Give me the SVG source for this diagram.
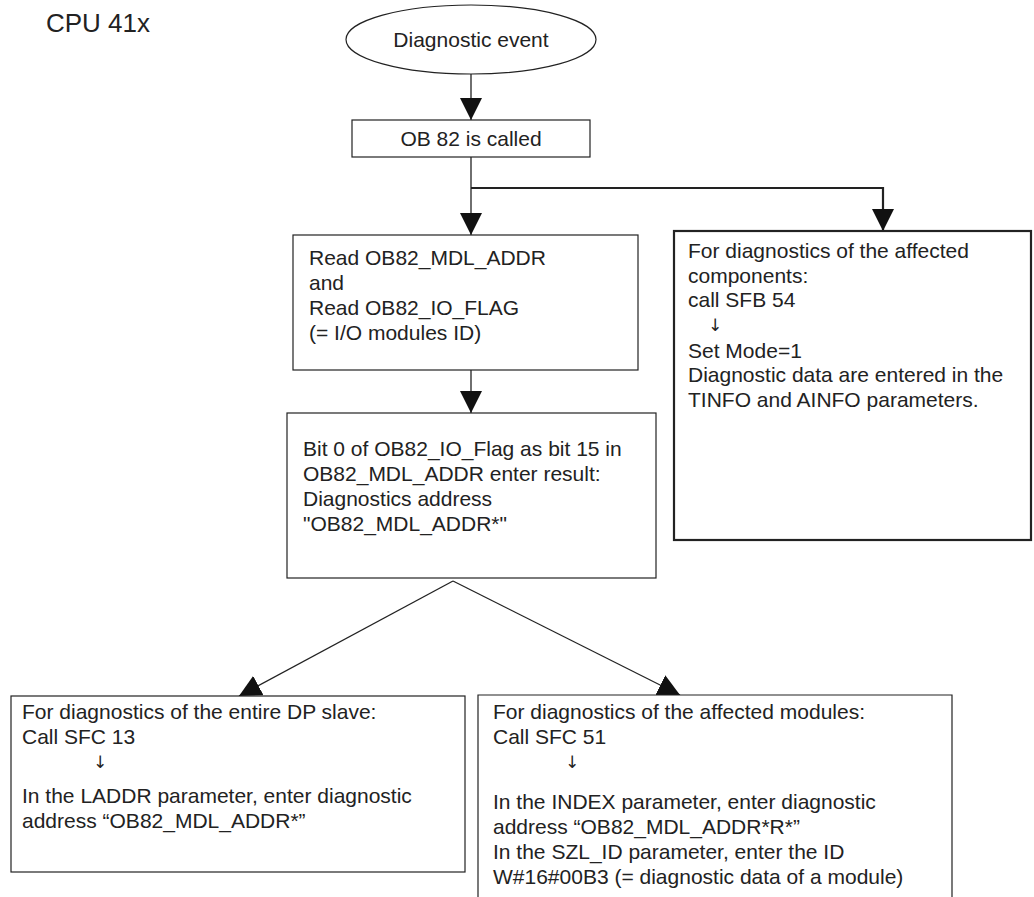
<svg xmlns="http://www.w3.org/2000/svg" width="1034" height="897" viewBox="0 0 1034 897">
<style>
  text { font-family: "Liberation Sans", Arial, "DejaVu Sans", sans-serif; font-size: 21px; fill: #222; }
  .box { fill: #fff; stroke: #222; stroke-width: 1.2; }
  .boxb { fill: #fff; stroke: #222; stroke-width: 2.2; }
  .conn { fill: none; stroke: #222; stroke-width: 1.3; }
  .connb { fill: none; stroke: #222; stroke-width: 2.2; }
  .c { text-anchor: middle; }
  .arr { font-family: "DejaVu Sans", sans-serif; font-size: 17px; }
</style>
<defs>
  <marker id="ah" viewBox="0 0 22 22" refX="22" refY="11" markerWidth="22" markerHeight="22" markerUnits="userSpaceOnUse" orient="auto">
    <path d="M0,0 L22,11 L0,22 z" fill="#111"/>
  </marker>
</defs>
<rect width="1034" height="897" fill="#fff"/>
<text x="46" y="32" style="font-size:26px">CPU 41x</text>

<g id="connectors">
  <line class="conn" x1="471" y1="74" x2="471" y2="120" marker-end="url(#ah)"/>
  <line class="conn" x1="471" y1="157" x2="471" y2="235" marker-end="url(#ah)"/>
  <polyline class="connb" points="471,188 883,188 883,231" marker-end="url(#ah)"/>
  <line class="conn" x1="471" y1="370" x2="471" y2="413" marker-end="url(#ah)"/>
  <line class="conn" x1="453" y1="581" x2="239" y2="696" marker-end="url(#ah)"/>
  <line class="conn" x1="453" y1="581" x2="680" y2="695" marker-end="url(#ah)"/>
</g>

<g id="start">
  <ellipse class="box" cx="471" cy="39.5" rx="125" ry="34.5"/>
  <text class="c" x="471" y="47">Diagnostic event</text>
</g>

<g id="ob82">
  <rect class="box" x="352" y="120" width="238" height="37"/>
  <text class="c" x="471" y="146">OB 82 is called</text>
</g>

<g id="read">
  <rect class="box" x="293" y="235" width="345" height="135"/>
  <text x="309" y="265">Read OB82_MDL_ADDR</text>
  <text x="309" y="290">and</text>
  <text x="309" y="315">Read OB82_IO_FLAG</text>
  <text x="309" y="340">(= I/O modules ID)</text>
</g>

<g id="bit">
  <rect class="box" x="287" y="413" width="369" height="165"/>
  <text x="303" y="456">Bit 0 of OB82_IO_Flag as bit 15 in</text>
  <text x="303" y="481">OB82_MDL_ADDR enter result:</text>
  <text x="303" y="506">Diagnostics address</text>
  <text x="303" y="531">"OB82_MDL_ADDR*"</text>
</g>

<g id="sfb54">
  <rect class="boxb" x="674" y="231" width="357" height="309"/>
  <text x="688" y="258">For diagnostics of the affected</text>
  <text x="688" y="283">components:</text>
  <text x="688" y="307">call SFB 54</text>
  <text class="arr" x="708" y="331">↓</text>
  <text x="688" y="358">Set Mode=1</text>
  <text x="688" y="382">Diagnostic data are entered in the</text>
  <text x="688" y="407">TINFO and AINFO parameters.</text>
</g>

<g id="sfc13">
  <rect class="box" x="11" y="696" width="454" height="176"/>
  <text x="22" y="719">For diagnostics of the entire DP slave:</text>
  <text x="22" y="744">Call SFC 13</text>
  <text class="arr" x="93" y="768">↓</text>
  <text x="22" y="803">In the LADDR parameter, enter diagnostic</text>
  <text x="22" y="828">address “OB82_MDL_ADDR*”</text>
</g>

<g id="sfc51">
  <path class="box" d="M478,900 L478,695 L952,695 L952,900"/>
  <text x="493" y="719">For diagnostics of the affected modules:</text>
  <text x="493" y="744">Call SFC 51</text>
  <text class="arr" x="565" y="768">↓</text>
  <text x="493" y="809">In the INDEX parameter, enter diagnostic</text>
  <text x="493" y="834">address “OB82_MDL_ADDR*R*”</text>
  <text x="493" y="859">In the SZL_ID parameter, enter the ID</text>
  <text x="493" y="884">W#16#00B3 (= diagnostic data of a module)</text>
</g>
</svg>
